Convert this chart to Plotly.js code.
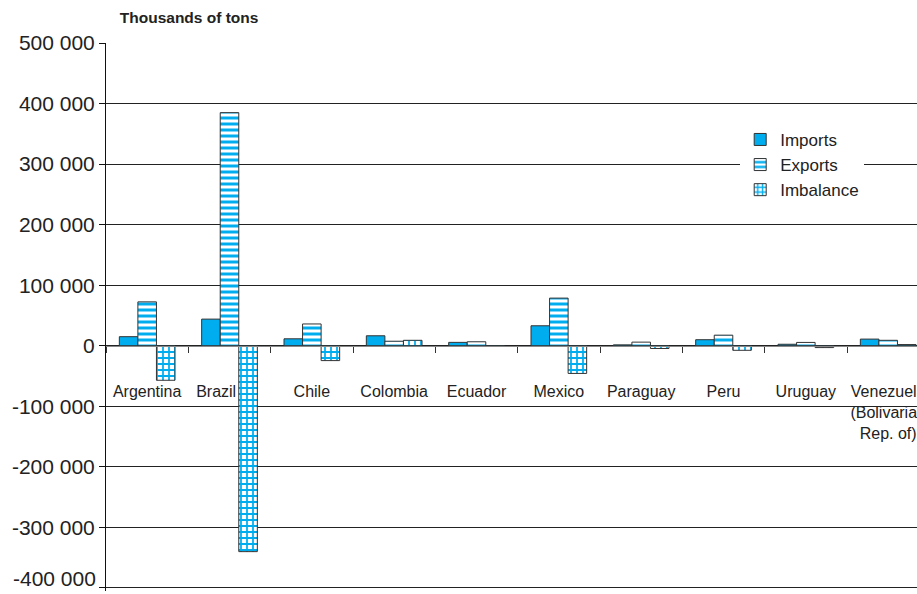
<!DOCTYPE html>
<html>
<head>
<meta charset="utf-8">
<script src="https://cdn.plot.ly/plotly-3.0.1.min.js"></script>
<style>html,body{margin:0;padding:0;background:#fff;}#chart{width:917px;height:594px;}</style>
</head>
<body>
<div id="chart"></div>
<script>
const categories = ['Argentina','Brazil','Chile','Colombia','Ecuador','Mexico','Paraguay','Peru','Uruguay','Venezuela (Bolivarian Rep. of)'];
const xTickText  = ['Argentina','Brazil\u00a0\u00a0\u00a0\u00a0\u00a0\u00a0','Chile','Colombia','Ecuador','Mexico','Paraguay','Peru','Uruguay','Venezuela<br>(Bolivarian<br>Rep. of)'];
const imports   = [15000, 44000, 11500, 16500, 5600, 33000, 1500, 10000, 2500, 11000];
const exports   = [72500, 385000, 36000, 7500, 6600, 78700, 6000, 17500, 5500, 9000];
const imbalance = [-57000, -340000, -24500, 9000, -1000, -45700, -4500, -7500, -3000, 2000];
const yTickVals = [500000, 400000, 300000, 200000, 100000, 0, -100000, -200000, -300000, -400000];
const yTickText = ['500 000','400 000','300 000','200 000','100 000','0','-100 000','-200 000','-300 000','-400 000'];

const BLUE = '#00AEEF';
const EDGE = '#333333';
const SANS = '"Liberation Sans", Arial, sans-serif';
const Y_MIN = -405000, Y_MAX = 500000;

// the lowest tick label sits just above its grid line (as in the reference)
const lastIdx = yTickVals.length - 1;
const axisText = yTickText.map((t, i) => i === lastIdx ? '' : t);

const traces = [
  {type:'bar', name:'Imports', x:categories, y:imports,
   marker:{color:BLUE, line:{color:EDGE, width:1}}},
  {type:'bar', name:'Exports', x:categories, y:exports,
   marker:{color:'white', line:{color:EDGE, width:1},
     pattern:{shape:'-', fgcolor:BLUE, bgcolor:'white', size:6, solidity:0.5, fillmode:'replace'}}},
  {type:'bar', name:'Imbalance', x:categories, y:imbalance,
   marker:{color:'white', line:{color:EDGE, width:1},
     pattern:{shape:'+', fgcolor:BLUE, bgcolor:'white', size:6, solidity:0.5, fillmode:'replace'}}}
];

const layout = {
  width:917, height:594,
  margin:{l:106, r:0, t:43, b:3, pad:0},
  paper_bgcolor:'white', plot_bgcolor:'white',
  barmode:'group', bargap:0.324, bargroupgap:0,
  showlegend:true,
  title:{text:'<b>Thousands of tons</b>', font:{family:SANS, size:15.5, color:'#222'},
         xref:'paper', x:0.017, xanchor:'left', yref:'container', y:0.97, yanchor:'middle'},
  xaxis:{type:'category', range:[-0.5, 9.35], anchor:'free', position:(0 - Y_MIN)/(Y_MAX - Y_MIN),
         tickmode:'array', tickvals:categories, ticktext:xTickText,
         showline:true, linecolor:'#888', linewidth:1,
         ticks:'outside', tickson:'boundaries', ticklen:6, tickcolor:'#333', tickangle:0,
         ticklabelstandoff:31,
         showgrid:false, zeroline:false, automargin:false,
         tickfont:{family:SANS, size:16, color:'#222'}},
  yaxis:{range:[Y_MIN, Y_MAX], tickvals:yTickVals, ticktext:axisText,
         showline:true, linecolor:'#111', linewidth:1,
         ticks:'outside', ticklen:6, tickcolor:'#111',
         showgrid:true, gridcolor:'#222', gridwidth:1, zeroline:false, automargin:false,
         tickfont:{family:SANS, size:21, color:'#222'}},
  annotations:[{text:yTickText[lastIdx], xref:'paper', x:0, xanchor:'right', xshift:-8,
                yref:'y', y:yTickVals[lastIdx], yanchor:'bottom', yshift:-4, showarrow:false,
                font:{family:SANS, size:21, color:'#222'}}],
  legend:{x:0.782, xanchor:'left', y:0.856, yanchor:'top', bgcolor:'white', borderwidth:0,
          font:{family:SANS, size:17, color:'#222'}, tracegroupgap:0}
};

Plotly.newPlot('chart', traces, layout, {displayModeBar:false, staticPlot:true});
</script>
</body>
</html>
